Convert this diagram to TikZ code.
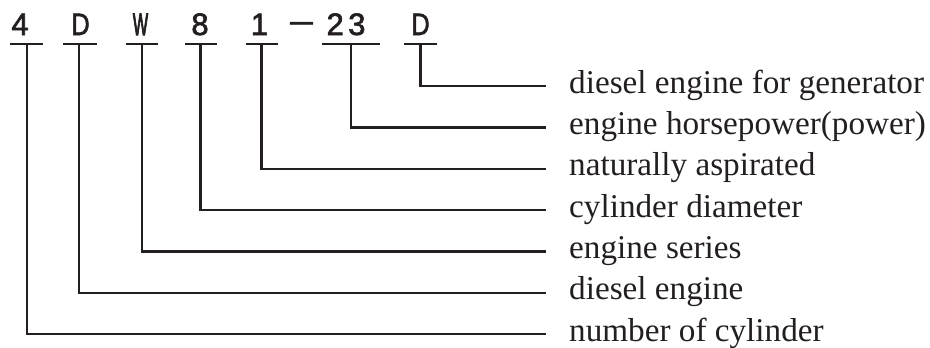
\documentclass[tikz,border=0pt]{standalone}
\usepackage{fontspec}
\setmainfont{Liberation Serif}
\newfontfamily\codefont[FakeBold=2]{Liberation Sans}
\newfontfamily\codefontw[FakeBold=4]{Liberation Sans}
\definecolor{ink}{HTML}{231F20}
\begin{document}
\begin{tikzpicture}[x=1pt,y=-1pt,
  code/.style={font=\codefont\fontsize{31}{31}\selectfont, inner sep=0pt, anchor=base, text=ink},
  lab/.style={font=\fontsize{33.2}{36}\selectfont, inner sep=0pt, anchor=base west, text=ink},
  uline/.style={draw=ink, line width=2.4pt},
  conn/.style={draw=ink, line width=2.4pt}]
\useasboundingbox (0,0) rectangle (930,348);

% code characters
\node[code] (c1) at (20,35) {\scalebox{1.0}[1]{4}};
\node[code] (c2) at (80.5,35) {\scalebox{0.82}[1]{D}};
\node[code] (c3) at (140.5,35) {\codefontw\scalebox{0.52}[1]{W}};
\node[code] (c4) at (200,35) {\scalebox{1.0}[1]{8}};
\node[code] (c5) at (259.5,35) {\scalebox{1.0}[1]{1}};
\node[code] (dash) at (301.5,35) {\raisebox{3.9pt}{\scalebox{0.74}[1]{—}}};
\node[code] (c6) at (346,35) {\scalebox{1.0}[1]{2}\kern4.5pt\scalebox{1.0}[1]{3}};
\node[code] (c7) at (420.5,35) {\scalebox{0.82}[1]{D}};

% underlines
\draw[uline] (10,44) -- (43,44);
\draw[uline] (63,44) -- (97,44);
\draw[uline] (126,44) -- (158,44);
\draw[uline] (185,44) -- (217,44);
\draw[uline] (246,44) -- (278,44);
\draw[uline] (322,44) -- (380,44);
\draw[uline] (404,44) -- (437,44);

% junction points under the characters
\coordinate (v1) at (26.7,44);
\coordinate (v2) at (79,44);
\coordinate (v3) at (142,44);
\coordinate (v4) at (200.5,44);
\coordinate (v5) at (261.5,44);
\coordinate (v6) at (351,44);
\coordinate (v7) at (420.5,44);

% line ends before labels
\coordinate (e1) at (546,86);
\coordinate (e2) at (546,127.3);
\coordinate (e3) at (546,168.7);
\coordinate (e4) at (546,210);
\coordinate (e5) at (546,251.3);
\coordinate (e6) at (546,292.7);
\coordinate (e7) at (546,334);

% labels
\node[lab] (l1) at (569,93) {diesel engine for generator};
\node[lab] (l2) at (569,134.3) {engine horsepower(power)};
\node[lab] (l3) at (569,175.7) {naturally aspirated};
\node[lab] (l4) at (569,217) {cylinder diameter};
\node[lab] (l5) at (569,258.3) {engine series};
\node[lab] (l6) at (569,299.7) {diesel engine};
\node[lab] (l7) at (569,341) {number of cylinder};

% connectors
\draw[conn] (v7) |- (e1);
\draw[conn] (v6) |- (e2);
\draw[conn] (v5) |- (e3);
\draw[conn] (v4) |- (e4);
\draw[conn] (v3) |- (e5);
\draw[conn] (v2) |- (e6);
\draw[conn] (v1) |- (e7);
\end{tikzpicture}
\end{document}
